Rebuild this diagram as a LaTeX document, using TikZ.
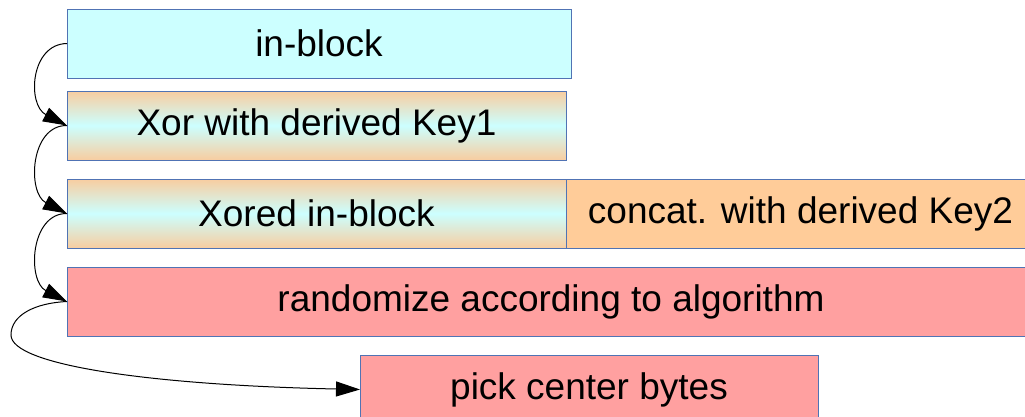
\documentclass[tikz,border=0pt]{standalone}
\usepackage{fontspec}
\setmainfont{Liberation Sans}
\usetikzlibrary{arrows.meta}
\definecolor{edgeblue}{RGB}{80,115,180}
\definecolor{paleCyan}{RGB}{204,255,255}
\definecolor{paleOrange}{RGB}{248,205,160}
\definecolor{keyOrange}{RGB}{255,204,153}
\definecolor{salmon}{RGB}{255,160,160}
\tikzset{
  block/.style={draw=edgeblue, line width=1pt, inner sep=0pt, outer sep=0pt,
    anchor=north west, minimum height=69pt,
    font=\fontsize{37}{44}\selectfont},
  plainblock/.style={block, fill=paleCyan},
  mixblock/.style={block, top color=paleOrange, bottom color=paleOrange, middle color=paleCyan},
  keyblock/.style={block, fill=keyOrange},
  randblock/.style={block, fill=salmon},
  flow/.style={draw=black, line width=1pt, -{Triangle[length=24pt,width=15pt]}}
}
\begin{document}
\begin{tikzpicture}[x=1pt, y=-1pt]
  \useasboundingbox (0,0) rectangle (1025,416);
  \clip (0,0) rectangle (1025,416);

  % processing stages
  \node[plainblock, minimum width=504pt] (inblock) at (67,9) {in-block};
  \node[mixblock, minimum width=499pt] (xor) at (67,91) {Xor with derived Key1};
  \node[mixblock, minimum width=499pt] (xored) at (67,179) {Xored in-block};
  \node[keyblock, minimum width=469pt] (concat) at (566,179) {concat. with derived Key2};
  \node[randblock, minimum width=968pt] (rand) at (67,267) {randomize according to algorithm};
  \node[randblock, minimum width=458pt] (pick) at (360,355) {pick center bytes};

  % flow between stages
  \draw[flow] (inblock.west) .. controls (30,44) and (27,105) .. (xor.west);
  \draw[flow] (xor.west) .. controls (30,125) and (27,193) .. (xored.west);
  \draw[flow] (xored.west) .. controls (30,213) and (27,281) .. (rand.west);
  \coordinate (loop) at (11,335);
  \draw[flow] (rand.west) .. controls (35,303) and (11,315) .. (loop)
    .. controls (11,365) and (150,385) .. (pick.west);
\end{tikzpicture}
\end{document}
